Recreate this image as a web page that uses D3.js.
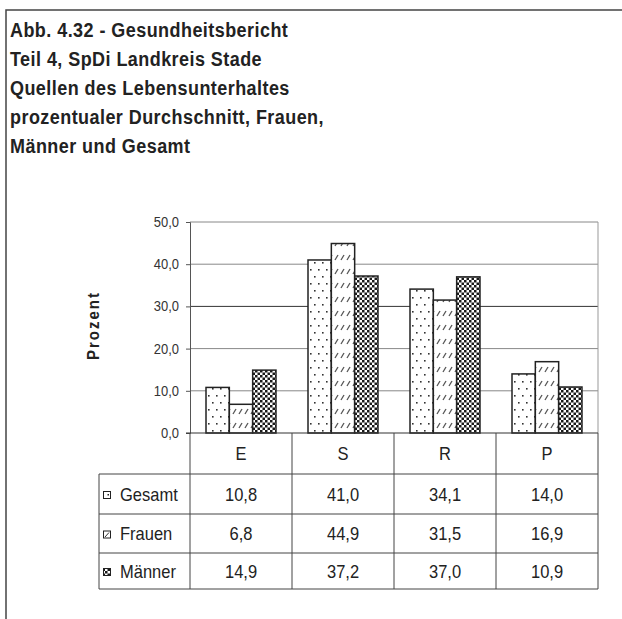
<!DOCTYPE html>
<html>
<head>
<meta charset="utf-8">
<script src="https://cdn.jsdelivr.net/npm/d3@7"></script>
<style>
	body { margin: 0; background: #fff; }
	svg { display: block; font-family: "Liberation Sans", Arial, sans-serif; }
</style>
</head>
<body>
<svg id="main"><defs></defs></svg>
<script>
// data
var titleLines = [
	'Abb. 4.32 - Gesundheitsbericht',
	'Teil 4, SpDi Landkreis Stade',
	'Quellen des Lebensunterhaltes',
	'prozentualer Durchschnitt, Frauen,',
	'Männer und Gesamt'
];
var categories = ['E', 'S', 'R', 'P'];
var series = ['Gesamt', 'Frauen', 'Männer'];
var gesamt = [10.8, 41.0, 34.1, 14.0];
var frauen = [6.8, 44.9, 31.5, 16.9];
var maenner = [14.9, 37.2, 37.0, 10.9];
var yTicks = [0, 10, 20, 30, 40, 50];
var yTitle = 'Prozent';

var values = {Gesamt: gesamt, Frauen: frauen, 'Männer': maenner};
var fills = {Gesamt: 'url(#dots)', Frauen: 'url(#hatch)', 'Männer': 'url(#checker)'};

var width = 622, height = 619;
var svg = d3.select('#main').attr('width', width).attr('height', height);
var defs = svg.select('defs');

var de = d3.formatLocale({decimal: ',', thousands: '.', grouping: [3], currency: ['', ' €']});
var fmt = de.format('.1f');
// the scanned text is a little taller than wide
var stretch = 1.15;
var tall = (x, y) => `translate(${x},${y}) scale(1,${stretch})`;

// patterns
var dots = defs.append('pattern').attr('id', 'dots')
	.attr('patternUnits', 'userSpaceOnUse').attr('width', 8).attr('height', 14);
dots.append('rect').attr('width', 8).attr('height', 14).attr('fill', '#fff');
dots.append('rect').attr('x', 2).attr('y', 3).attr('width', 1.6).attr('height', 1.6).attr('fill', '#333');
dots.append('rect').attr('x', 6).attr('y', 10).attr('width', 1.6).attr('height', 1.6).attr('fill', '#333');

var hatch = defs.append('pattern').attr('id', 'hatch')
	.attr('patternUnits', 'userSpaceOnUse').attr('width', 6).attr('height', 14);
hatch.append('rect').attr('width', 6).attr('height', 14).attr('fill', '#fff');
hatch.append('path').attr('d', 'M1,8 L4,3').attr('stroke', '#555').attr('stroke-width', 1.3);

var checker = defs.append('pattern').attr('id', 'checker')
	.attr('patternUnits', 'userSpaceOnUse').attr('width', 5).attr('height', 5);
checker.append('rect').attr('width', 5).attr('height', 5).attr('fill', '#fff');
checker.append('rect').attr('width', 2.5).attr('height', 2.5).attr('fill', '#1a1a1a');
checker.append('rect').attr('x', 2.5).attr('y', 2.5).attr('width', 2.5).attr('height', 2.5).attr('fill', '#1a1a1a');

// frame
svg.append('path')
	.attr('d', `M6,${height} V10 H${width}`)
	.attr('fill', 'none').attr('stroke', '#444').attr('stroke-width', 1.5);

// title
svg.append('g').selectAll('text').data(titleLines).join('text')
	.attr('transform', (d, i) => tall(10, 37 + i*29))
	.attr('font-size', 18)
	.attr('font-weight', 'bold')
	.attr('letter-spacing', 0.45)
	.attr('fill', '#222')
	.text(d => d);

// scales
var plot = {left: 190, right: 598, top: 222, bottom: 433};
var x = d3.scaleBand().domain(categories).range([plot.left, plot.right]);
var x1 = d3.scaleBand().domain(series).range([0, x.bandwidth()]).paddingOuter(0.686);
var y = d3.scaleLinear().domain([0, 50]).range([plot.bottom, plot.top]);

// grid
svg.append('g').selectAll('line').data(yTicks.filter(d => d > 0)).join('line')
	.attr('x1', plot.left).attr('x2', plot.right)
	.attr('y1', d => y(d)).attr('y2', d => y(d))
	.attr('stroke', d => d === 30 ? '#333' : '#888')
	.attr('stroke-width', 1);
svg.append('line')
	.attr('x1', plot.right).attr('x2', plot.right)
	.attr('y1', plot.top).attr('y2', plot.bottom)
	.attr('stroke', '#999');

// y axis
var yAxis = svg.append('g')
	.attr('transform', `translate(${plot.left},0)`)
	.call(d3.axisLeft(y).tickValues(yTicks).tickSize(4).tickPadding(7).tickFormat(fmt));
yAxis.select('.domain').attr('stroke', '#555');
yAxis.selectAll('.tick line').attr('stroke', '#555');
yAxis.selectAll('text')
	.attr('x', null).attr('dy', null)
	.attr('transform', tall(-11, 4.5))
	.attr('font-size', 13)
	.attr('font-family', '"Liberation Sans", Arial, sans-serif')
	.attr('fill', '#333');

svg.append('text')
	.attr('transform', `translate(99,${(plot.top + plot.bottom)/2 - 2}) rotate(-90) scale(1,${stretch})`)
	.attr('text-anchor', 'middle')
	.attr('font-size', 15)
	.attr('font-weight', 'bold')
	.attr('letter-spacing', 2)
	.attr('fill', '#222')
	.text(yTitle);

// bars
var groups = svg.append('g').selectAll('g').data(categories).join('g')
	.attr('transform', d => `translate(${x(d)},0)`);
groups.selectAll('rect')
	.data((c, i) => series.map(s => ({s, v: values[s][i]})))
	.join('rect')
	.attr('x', d => x1(d.s))
	.attr('width', x1.bandwidth())
	.attr('y', d => y(d.v))
	.attr('height', d => y(0) - y(d.v))
	.attr('fill', d => fills[d.s])
	.attr('stroke', '#222')
	.attr('stroke-width', 1.5);

// x axis line
svg.append('line')
	.attr('x1', plot.left - 4).attr('x2', plot.right)
	.attr('y1', plot.bottom).attr('y2', plot.bottom)
	.attr('stroke', '#333').attr('stroke-width', 1.2);

// data table
var rowEdges = [433, 474, 514, 553, 589];
var tableLeft = 99;
var fs = 16.5;
var base = fs*0.36*stretch;
var table = svg.append('g');
table.selectAll('.hline').data(rowEdges.slice(1)).join('line')
	.attr('x1', tableLeft).attr('x2', plot.right)
	.attr('y1', d => d).attr('y2', d => d)
	.attr('stroke', '#444');
table.selectAll('.vline').data(categories.map(c => x(c)).concat([plot.right])).join('line')
	.attr('x1', d => d).attr('x2', d => d)
	.attr('y1', rowEdges[0]).attr('y2', rowEdges[4])
	.attr('stroke', '#444');
table.append('line')
	.attr('x1', tableLeft).attr('x2', tableLeft)
	.attr('y1', rowEdges[1]).attr('y2', rowEdges[4])
	.attr('stroke', '#444');

table.selectAll('.cat').data(categories).join('text')
	.attr('transform', d => tall(x(d) + x.bandwidth()/2, (rowEdges[0] + rowEdges[1])/2 + base))
	.attr('text-anchor', 'middle')
	.attr('font-size', fs)
	.attr('fill', '#222')
	.text(d => d);

var rows = table.selectAll('.row').data(series).join('g')
	.attr('transform', (d, i) => `translate(0,${(rowEdges[i+1] + rowEdges[i+2])/2})`);
rows.append('rect')
	.attr('x', 103.5).attr('y', -2.5).attr('width', 7).attr('height', 7)
	.attr('fill', d => d === 'Männer' ? fills[d] : '#fff')
	.attr('stroke', '#222').attr('stroke-width', 1);
// small marks inside the legend keys
rows.filter(d => d === 'Gesamt').append('rect')
	.attr('x', 107.5).attr('y', 0).attr('width', 1.5).attr('height', 1.5).attr('fill', '#222');
rows.filter(d => d === 'Frauen').append('path')
	.attr('d', 'M105,3.5 L109,-1').attr('stroke', '#333').attr('stroke-width', 1);
rows.append('text')
	.attr('transform', tall(120, base))
	.attr('font-size', fs)
	.attr('fill', '#222')
	.text(d => d);
rows.selectAll('.val')
	.data(s => values[s].map((v, i) => ({c: categories[i], v})))
	.join('text')
	.attr('transform', d => tall(x(d.c) + x.bandwidth()/2, base))
	.attr('text-anchor', 'middle')
	.attr('font-size', fs)
	.attr('fill', '#222')
	.text(d => fmt(d.v));
</script>
</body>
</html>
